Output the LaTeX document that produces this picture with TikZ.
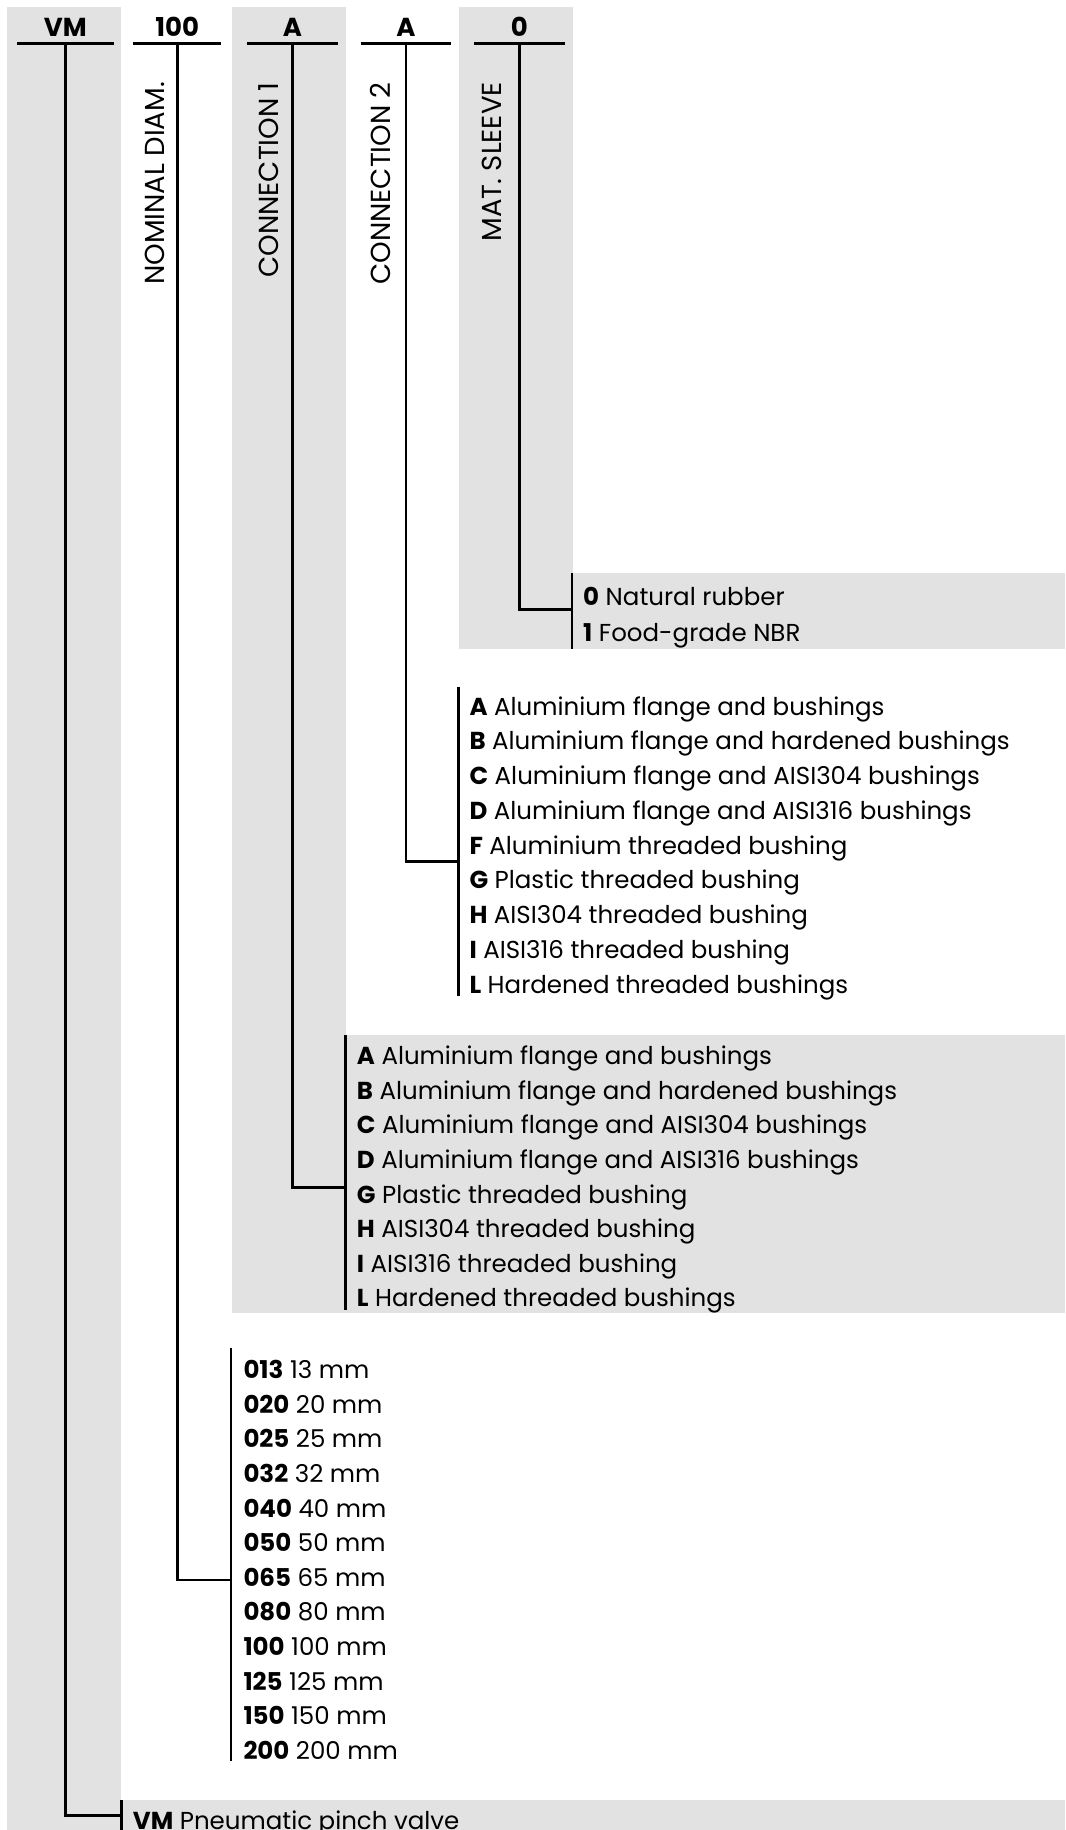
\documentclass[tikz,border=0pt]{standalone}
\usepackage{fontspec}
\setmainfont{Poppins}
\begin{document}
\begin{tikzpicture}[x=1pt,y=-1pt,font=\fontsize{24.5}{29}\selectfont,
  code/.style={font=\fontsize{26}{29}\selectfont\bfseries,anchor=south,
    inner sep=0pt,text depth=6.5pt},
  field/.style={font=\fontsize{27.5}{30}\selectfont,rotate=90,anchor=base east,inner sep=0pt},
  opt/.style={anchor=base west,inner sep=0pt},
  rule/.style={line width=2.6pt}]
  \definecolor{panel}{HTML}{E2E2E2}
  \useasboundingbox (0,0) rectangle (1065,1830);
  \clip (0,0) rectangle (1065,1830);
  % grey bands
  \fill[panel] (7,7) rectangle (121,1830);
  \fill[panel] (232,7) rectangle (346,1313);
  \fill[panel] (459,7) rectangle (573,649);
  \fill[panel] (573,573) rectangle (1065,649);
  \fill[panel] (346,1035) rectangle (1065,1313);
  \fill[panel] (121,1800) rectangle (1065,1830);
  % code heads
  \foreach \n/\x/\w/\t in {hVM/65.4/96/VM,hDN/177.2/88/100,hCa/292.4/90/A,
                           hCb/406/90/A,hMS/519.3/91/0}{
    \node[code,minimum width=\w pt] (\n) at (\x,43.5) {\t};
    \draw[rule] (\n.south west) -- (\n.south east);
  }
  \foreach \n/\x/\t in {fDN/164.6/NOMINAL DIAM.,fCa/278.2/CONNECTION 1,
                        fCb/390.3/CONNECTION 2,fMS/501.3/MAT. SLEEVE}
    \node[field] (\n) at (\x,82) {\t};
  % options
  \foreach \c/\t [count=\i] in {0/Natural rubber,1/Food-grade NBR}
    \node[opt] (ms\i) at (583,{605.7+35.3*(\i-1)}) {\textbf{\c} \t};
  \foreach \c/\t [count=\i] in {A/Aluminium flange and bushings,
      B/Aluminium flange and hardened bushings,C/Aluminium flange and AISI304 bushings,
      D/Aluminium flange and AISI316 bushings,F/Aluminium threaded bushing,
      G/Plastic threaded bushing,H/AISI304 threaded bushing,
      I/AISI316 threaded bushing,L/Hardened threaded bushings}
    \node[opt] (cb\i) at (469.3,{715+34.75*(\i-1)}) {\textbf{\c} \t};
  \foreach \c/\t [count=\i] in {A/Aluminium flange and bushings,
      B/Aluminium flange and hardened bushings,C/Aluminium flange and AISI304 bushings,
      D/Aluminium flange and AISI316 bushings,G/Plastic threaded bushing,
      H/AISI304 threaded bushing,I/AISI316 threaded bushing,L/Hardened threaded bushings}
    \node[opt] (ca\i) at (356.7,{1064.7+34.6*(\i-1)}) {\textbf{\c} \t};
  \foreach \c/\t [count=\i] in {013/13,020/20,025/25,032/32,040/40,050/50,
                                065/65,080/80,100/100,125/125,150/150,200/200}
    \node[opt] (dn\i) at (243.3,{1378.7+34.6*(\i-1)}) {\textbf{\c} \t{} mm};
  \node[opt] (vm1) at (132.7,1829.5) {\textbf{VM} Pneumatic pinch valve};
  % brackets
  \coordinate (jMS) at (572,609.3);
  \coordinate (jCb) at (458.3,861.7);
  \coordinate (jCa) at (345.3,1187.3);
  \coordinate (jDN) at (231,1580);
  \coordinate (jVM) at (121.7,1815.7);
  \draw[rule] (572,573) -- (572,649);
  \draw[rule] (458.3,686.7) -- (458.3,996);
  \draw[rule] (345.3,1035) -- (345.3,1310);
  \draw[rule] (231,1348.3) -- (231,1761);
  \draw[rule] (121.7,1800) -- (121.7,1830);
  % connectors
  \foreach \n in {MS,Cb,Ca,DN,VM}
    \draw[rule] (h\n.south) |- (j\n);
\end{tikzpicture}
\end{document}
